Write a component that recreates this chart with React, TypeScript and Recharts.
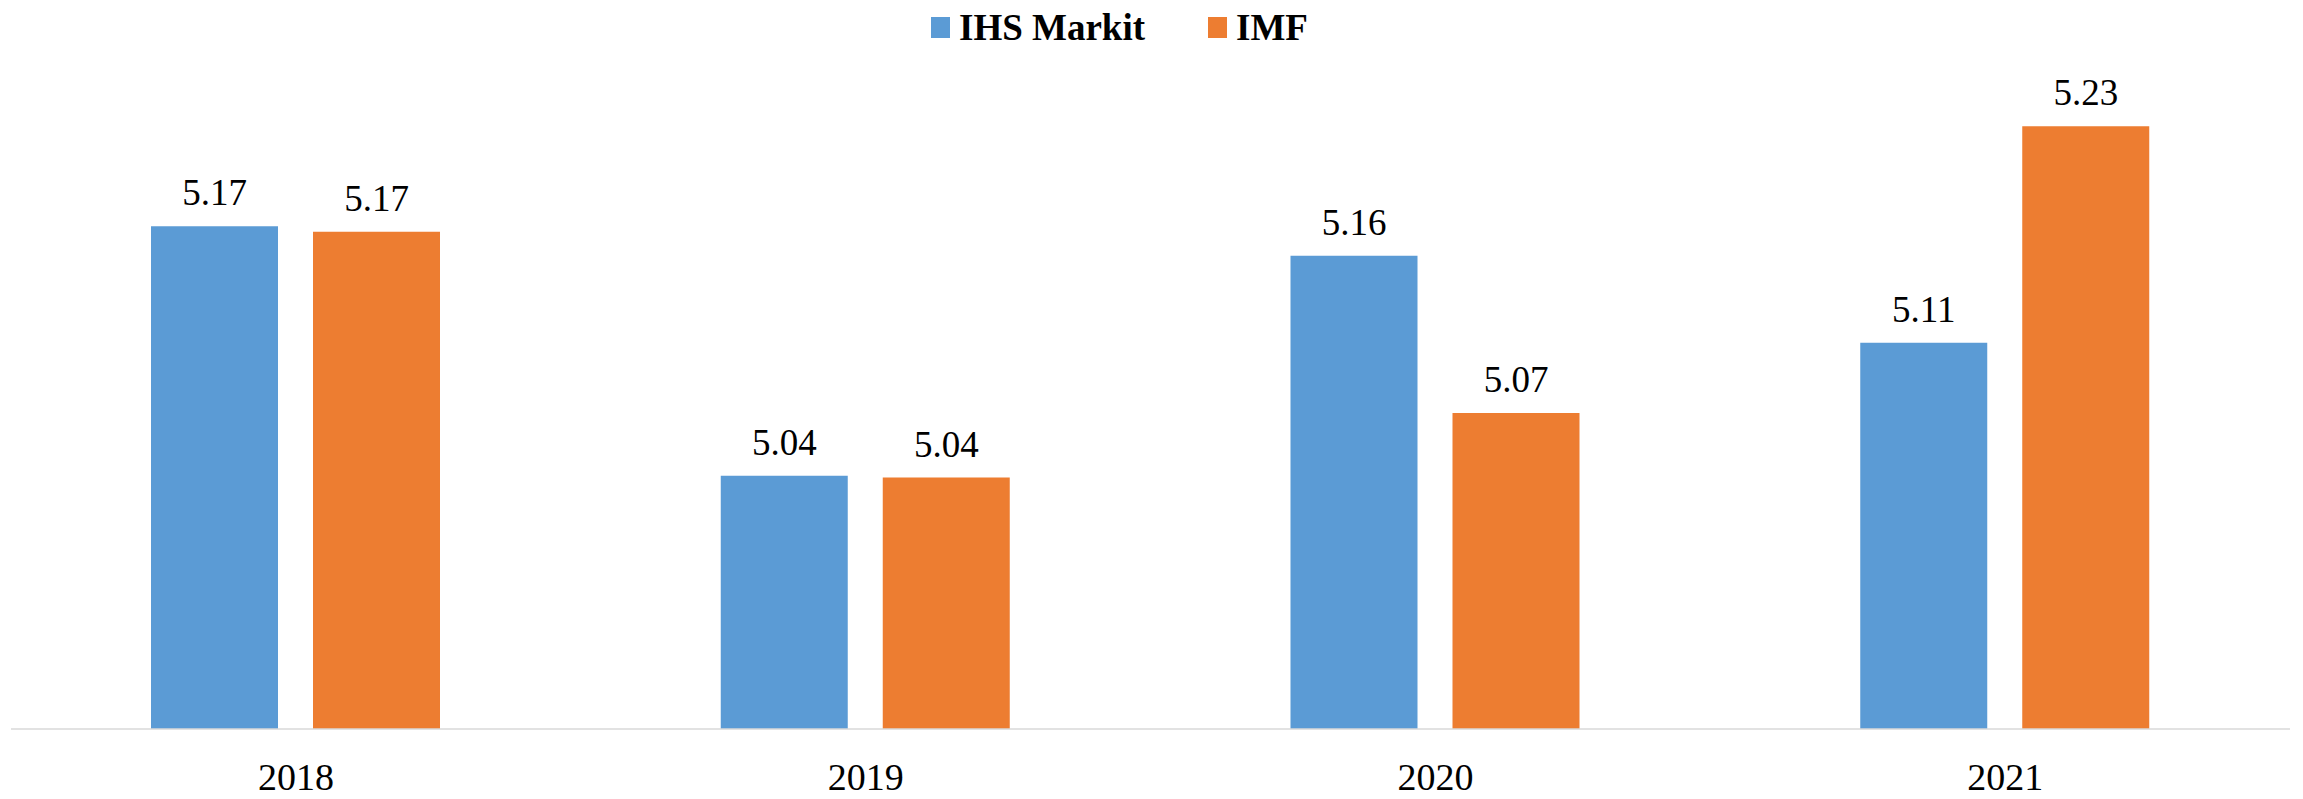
import React from "react";
import { BarChart, Bar, XAxis, YAxis, LabelList } from "recharts";

const years = ["2018", "2019", "2020", "2021"];
const ihsMarkit = [5.172, 5.037, 5.156, 5.109];
const imf = [5.169, 5.036, 5.071, 5.226];

const seriesNames = ["IHS Markit", "IMF"];
const seriesColors = ["#5B9BD5", "#ED7D31"];

const chartData = years.map((year, i) => ({
  year,
  ihs: ihsMarkit[i],
  imf: imf[i],
}));

const FONT = "Liberation Serif, DejaVu Serif, Times New Roman, serif";

const fmt = (v: any) => Number(v).toFixed(2);

const TopLegend = () => (
  <div
    style={{
      position: "absolute",
      top: 9,
      left: 931,
      display: "flex",
      alignItems: "center",
      fontFamily: FONT,
      fontWeight: "bold",
      fontSize: 37,
      lineHeight: 1,
      color: "#000",
    }}
  >
    {seriesNames.map((name, i) => (
      <div key={name} style={{ display: "flex", alignItems: "center", marginRight: i === 0 ? 63 : 0 }}>
        <span style={{ width: 19, height: 21, background: seriesColors[i], marginRight: 9, display: "inline-block" }} />
        <span>{name}</span>
      </div>
    ))}
  </div>
);

export default function App() {
  return (
    <div style={{ position: "absolute", left: 0, top: 0, width: 2303, height: 799, background: "#fff" }}>
      <BarChart
        width={2303}
        height={799}
        data={chartData}
        margin={{ top: 82, right: 13, left: 11, bottom: 0 }}
        barSize={127}
        barGap={35}
      >
        <XAxis
          dataKey="year"
          height={70}
          tickLine={false}
          tickSize={0}
          tickMargin={34}
          axisLine={{ stroke: "#D9D9D9", strokeWidth: 1.5 }}
          tick={{ fill: "#000", fontSize: 38, fontFamily: FONT }}
        />
        <YAxis hide domain={[4.9, 5.25]} />
        <Bar dataKey="ihs" name={seriesNames[0]} fill={seriesColors[0]} isAnimationActive={false}>
          <LabelList
            dataKey="ihs"
            position="top"
            offset={21}
            formatter={fmt}
            fontFamily={FONT}
            fontSize={37}
            fill="#000"
          />
        </Bar>
        <Bar dataKey="imf" name={seriesNames[1]} fill={seriesColors[1]} isAnimationActive={false}>
          <LabelList
            dataKey="imf"
            position="top"
            offset={21}
            formatter={fmt}
            fontFamily={FONT}
            fontSize={37}
            fill="#000"
          />
        </Bar>
      </BarChart>
      <TopLegend />
    </div>
  );
}
